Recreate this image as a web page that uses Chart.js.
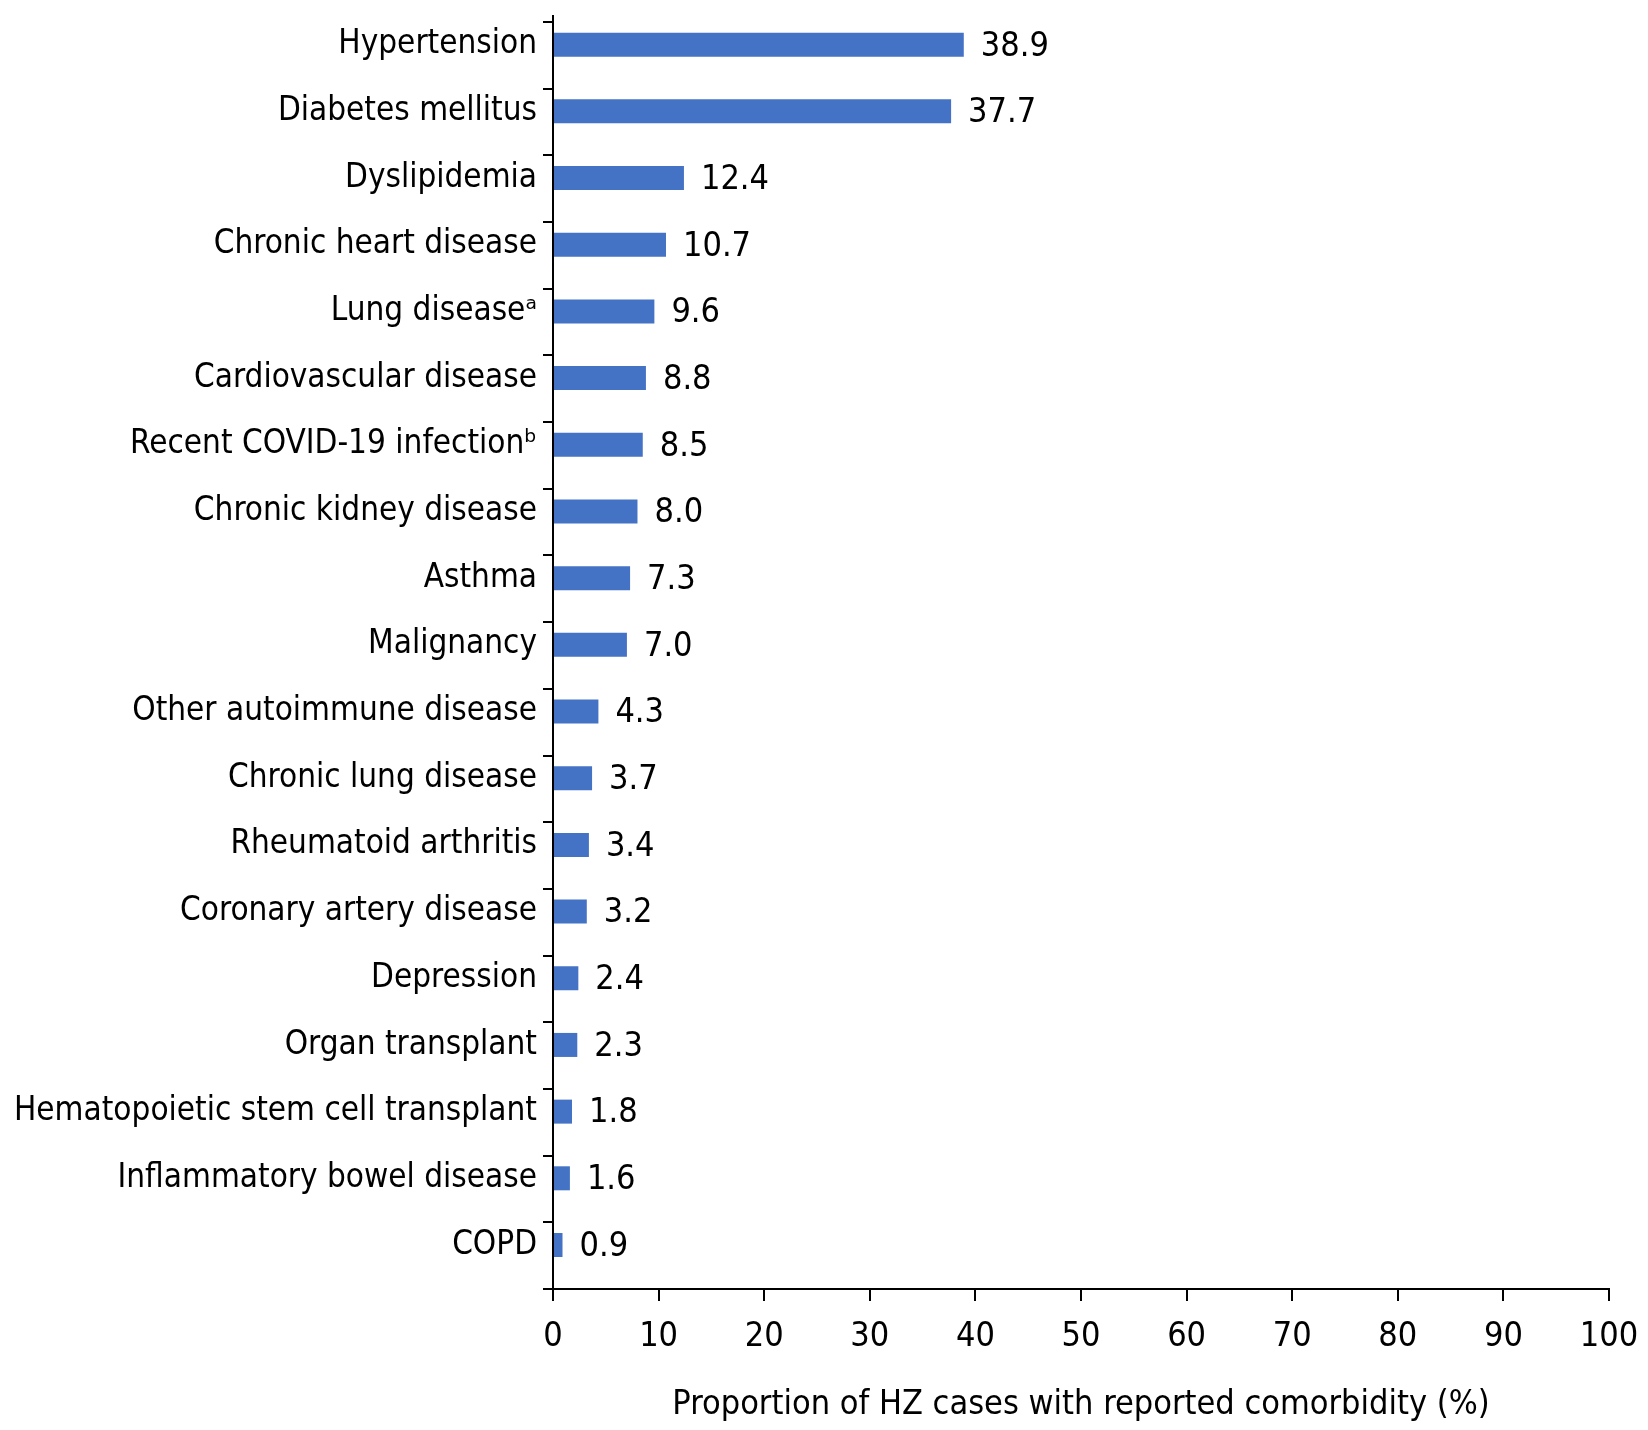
<!DOCTYPE html>
<html>
<head>
<meta charset="utf-8">
<script src="https://cdn.jsdelivr.net/npm/chart.js"></script>
<style>
  html, body { margin: 0; padding: 0; background: #fff; }
  canvas { display: block; }
</style>
</head>
<body>
<canvas id="chart" width="1648" height="1430"></canvas>
<script>
// Data
const categories = [
  'Hypertension', 'Diabetes mellitus', 'Dyslipidemia', 'Chronic heart disease',
  'Lung disease\u1D43', 'Cardiovascular disease', 'Recent COVID-19 infection\u1D47',
  'Chronic kidney disease', 'Asthma', 'Malignancy', 'Other autoimmune disease',
  'Chronic lung disease', 'Rheumatoid arthritis', 'Coronary artery disease',
  'Depression', 'Organ transplant', 'Hematopoietic stem cell transplant',
  'Inflammatory bowel disease', 'COPD'
];
const values = [38.9, 37.7, 12.4, 10.7, 9.6, 8.8, 8.5, 8.0, 7.3, 7.0, 4.3, 3.7, 3.4, 3.2, 2.4, 2.3, 1.8, 1.6, 0.9];
const xMin = 0;
const xMax = 100;
const xStep = 10;
const xTitle = 'Proportion of HZ cases with reported comorbidity (%)';

const FONT = "'DejaVu Sans Condensed', 'DejaVu Sans', sans-serif";
const BAR_COLOR = '#4472C4';

// value labels at the end of each bar
const valueLabels = {
  id: 'valueLabels',
  afterDatasetsDraw(chart) {
    const ctx = chart.ctx;
    const meta = chart.getDatasetMeta(0);
    ctx.save();
    ctx.font = '34px ' + FONT;
    ctx.fillStyle = '#000';
    ctx.textAlign = 'left';
    ctx.textBaseline = 'middle';
    meta.data.forEach((bar, i) => {
      ctx.fillText(values[i].toFixed(1), bar.x + 17, bar.y + 2);
    });
    ctx.restore();
  }
};

// tick marks on the category axis sit a bit above the band middle, like the original
const yTickMarks = {
  id: 'yTickMarks',
  afterDraw(chart) {
    const ctx = chart.ctx;
    const y = chart.scales.y;
    const left = chart.chartArea.left;
    ctx.save();
    ctx.strokeStyle = '#000';
    ctx.lineWidth = 2;
    for (let i = 0; i <= categories.length; i++) {
      const py = Math.round(y.getPixelForValue(i - 0.34));
      ctx.beginPath();
      ctx.moveTo(left - 10, py);
      ctx.lineTo(left, py);
      ctx.stroke();
    }
    ctx.restore();
  }
};

new Chart(document.getElementById('chart'), {
  type: 'bar',
  data: {
    labels: categories,
    datasets: [{
      data: values,
      backgroundColor: BAR_COLOR,
      borderWidth: 0,
      barPercentage: 0.36,
      categoryPercentage: 1
    }]
  },
  options: {
    indexAxis: 'y',
    responsive: false,
    devicePixelRatio: 1,
    animation: false,
    layout: { padding: { top: 16, right: 39, bottom: 0, left: 0 } },
    plugins: {
      legend: { display: false },
      tooltip: { enabled: false }
    },
    scales: {
      y: {
        type: 'category',
        offset: true,
        grid: { display: true, drawOnChartArea: false, drawTicks: false },
        border: { display: true, color: '#000', width: 2 },
        ticks: {
          color: '#000',
          font: { family: FONT, size: 33 },
          padding: 16,
          autoSkip: false
        },
        afterBuildTicks: (scale) => {
          scale._startValue = -0.43;
          scale._valueRange = 19.09;
        },
        afterFit: (scale) => {
          scale.width = 553;
          scale.paddingTop = 0;
          scale.paddingBottom = 0;
        }
      },
      x: {
        min: xMin,
        max: xMax,
        grid: {
          display: true,
          drawOnChartArea: false,
          drawTicks: true,
          tickLength: 12,
          color: '#000',
          lineWidth: 2
        },
        border: { display: true, color: '#000', width: 2 },
        ticks: {
          stepSize: xStep,
          color: '#000',
          font: { family: FONT, size: 34 },
          padding: 16,
          maxRotation: 0
        },
        title: {
          display: true,
          text: xTitle,
          color: '#000',
          font: { family: FONT, size: 34 },
          padding: { top: 0, bottom: 4 }
        },
        afterFit: (scale) => {
          scale.height = 141;
          scale.paddingLeft = 0;
          scale.paddingRight = 0;
        }
      }
    }
  },
  plugins: [valueLabels, yTickMarks]
});
</script>
</body>
</html>
